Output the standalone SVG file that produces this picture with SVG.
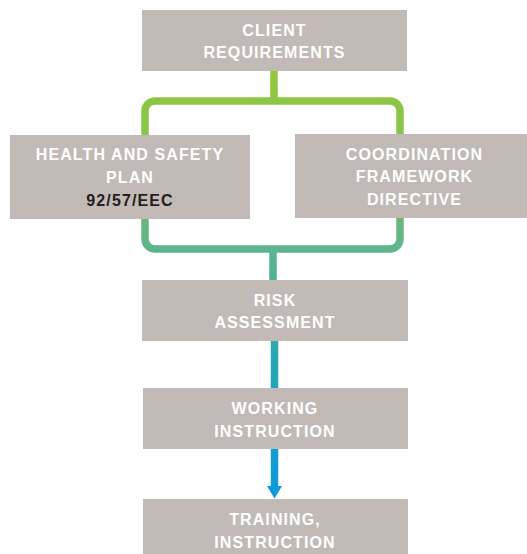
<svg xmlns="http://www.w3.org/2000/svg" width="527" height="554" viewBox="0 0 527 554">
<style>
.box{fill:#c2bab6}
.t{font-family:"Liberation Sans","DejaVu Sans",sans-serif;font-weight:bold;font-size:16px;letter-spacing:1.1px;fill:#ffffff;text-anchor:middle}
.d{fill:#231f20}
.ln{fill:none;stroke:url(#g);stroke-width:7.5}
</style>
<defs>
<linearGradient id="g" gradientUnits="userSpaceOnUse" x1="0" y1="70" x2="0" y2="498">
<stop offset="0" stop-color="#92c83e"/>
<stop offset="0.2" stop-color="#86c451"/>
<stop offset="0.42" stop-color="#5db48e"/>
<stop offset="0.68" stop-color="#27a7b3"/>
<stop offset="1" stop-color="#0b98dc"/>
</linearGradient>
</defs>
<g id="connectors">
<rect class="ln" x="145" y="101" width="255" height="148" rx="10"/>
<path class="ln" d="M274,71 V101"/>
<path class="ln" d="M273,249 V280"/>
<path class="ln" d="M274.5,340 V388"/>
<path class="ln" d="M274.5,448 V487"/>
<path d="M267,486 H282 L274.5,498.5 Z" fill="url(#g)"/>
</g>
<g id="client">
<rect class="box" x="142" y="10" width="265" height="61"/>
<text class="t" x="274.5" y="36">CLIENT</text>
<text class="t" x="274.5" y="58">REQUIREMENTS</text>
</g>
<g id="health">
<rect class="box" x="10" y="135" width="240" height="84"/>
<text class="t" x="130" y="160">HEALTH AND SAFETY</text>
<text class="t" x="130" y="183">PLAN</text>
<text class="t d" x="130" y="205.5">92/57/EEC</text>
</g>
<g id="coordination">
<rect class="box" x="295" y="134" width="232" height="84"/>
<text class="t" x="414.5" y="160">COORDINATION</text>
<text class="t" x="414.5" y="182">FRAMEWORK</text>
<text class="t" x="414.5" y="204.5">DIRECTIVE</text>
</g>
<g id="risk">
<rect class="box" x="142" y="280" width="266" height="61"/>
<text class="t" x="275" y="306">RISK</text>
<text class="t" x="275" y="328">ASSESSMENT</text>
</g>
<g id="working">
<rect class="box" x="143" y="388" width="265" height="61"/>
<text class="t" x="275" y="414">WORKING</text>
<text class="t" x="275" y="436.5">INSTRUCTION</text>
</g>
<g id="training">
<rect class="box" x="143" y="499" width="265" height="55"/>
<text class="t" x="275" y="525">TRAINING,</text>
<text class="t" x="275" y="547.5">INSTRUCTION</text>
</g>
</svg>
